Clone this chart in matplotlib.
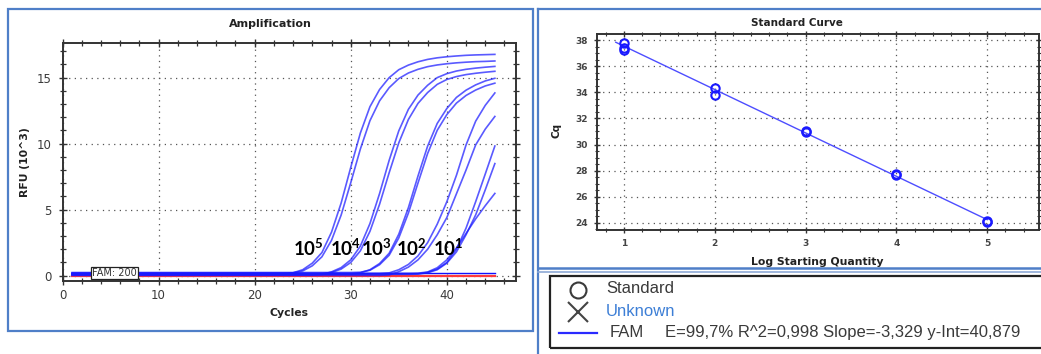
import matplotlib
matplotlib.use("Agg")
import matplotlib.pyplot as plt
from matplotlib.patches import Rectangle
from matplotlib.lines import Line2D
from matplotlib.ticker import MultipleLocator

plt.rcParams["font.family"] = ["DejaVu Sans"]
plt.rcParams["mathtext.fontset"] = "custom"
plt.rcParams["mathtext.bf"] = "Lato:bold"
plt.rcParams["mathtext.rm"] = "Lato"

# ---------------- data: amplification (RFU x 10^3 per cycle) ----------------
cycles = list(range(1, 46))

rfu_1e5_a = [0.10, 0.10, 0.10, 0.10, 0.10, 0.10, 0.10, 0.10, 0.10, 0.10, 0.10, 0.10,
             0.10, 0.10, 0.10, 0.10, 0.10, 0.10, 0.10, 0.10, 0.10, 0.10, 0.10,
             0.22, 0.45, 0.95, 1.75, 3.30, 5.50, 8.20, 10.80, 12.80, 14.10, 15.00, 15.60,
             15.95, 16.20, 16.38, 16.50, 16.58, 16.64, 16.69, 16.72, 16.74, 16.76]
rfu_1e5_b = [0.20, 0.20, 0.20, 0.20, 0.20, 0.20, 0.20, 0.20, 0.20, 0.20, 0.20, 0.20,
             0.20, 0.20, 0.20, 0.20, 0.20, 0.20, 0.20, 0.20, 0.20, 0.20, 0.20,
             0.21, 0.36, 0.75, 1.43, 2.68, 4.59, 7.04, 9.59, 11.74, 13.24, 14.24, 14.93,
             15.35, 15.63, 15.83, 15.96, 16.05, 16.12, 16.17, 16.21, 16.23, 16.26]
rfu_1e4_a = [0.04, 0.04, 0.04, 0.04, 0.04, 0.04, 0.04, 0.04, 0.04, 0.04, 0.04, 0.04,
             0.04, 0.04, 0.04, 0.04, 0.04, 0.04, 0.04, 0.04, 0.04, 0.04, 0.04, 0.04,
             0.04, 0.04, 0.09,
             0.29, 0.61, 1.20, 2.24, 3.95, 6.22, 8.74, 10.97, 12.60, 13.68, 14.42, 15.00,
             15.30, 15.50, 15.63, 15.72, 15.79, 15.85]
rfu_1e4_b = [0.16, 0.16, 0.16, 0.16, 0.16, 0.16, 0.16, 0.16, 0.16, 0.16, 0.16, 0.16,
             0.16, 0.16, 0.16, 0.16, 0.16, 0.16, 0.16, 0.16, 0.16, 0.16, 0.16, 0.16,
             0.16, 0.16, 0.16,
             0.24, 0.50, 1.00, 1.88, 3.36, 5.41, 7.80, 10.06, 11.83, 13.05, 13.87, 14.49,
             14.86, 15.08, 15.23, 15.33, 15.41, 15.48]
rfu_1e3_a = [0.12, 0.12, 0.12, 0.12, 0.12, 0.12, 0.12, 0.12, 0.12, 0.12, 0.12, 0.12,
             0.12, 0.12, 0.12, 0.12, 0.12, 0.12, 0.12, 0.12, 0.12, 0.12, 0.12, 0.12,
             0.12, 0.12, 0.12, 0.12, 0.12, 0.12,
             0.22, 0.45, 0.92, 1.70, 3.14, 5.15, 7.55, 9.81, 11.53, 12.66, 13.50, 14.05,
             14.45, 14.75, 14.95]
rfu_1e3_b = [0.24, 0.24, 0.24, 0.24, 0.24, 0.24, 0.24, 0.24, 0.24, 0.24, 0.24, 0.24,
             0.24, 0.24, 0.24, 0.24, 0.24, 0.24, 0.24, 0.24, 0.24, 0.24, 0.24, 0.24,
             0.24, 0.24, 0.24, 0.24, 0.24, 0.24,
             0.26, 0.41, 0.83, 1.55, 2.86, 4.74, 7.02, 9.25, 11.01, 12.20, 13.07, 13.65,
             14.06, 14.37, 14.58]
rfu_1e2_a = [0.15, 0.15, 0.15, 0.15, 0.15, 0.15, 0.15, 0.15, 0.15, 0.15, 0.15, 0.15,
             0.15, 0.15, 0.15, 0.15, 0.15, 0.15, 0.15, 0.15, 0.15, 0.15, 0.15, 0.15,
             0.15, 0.15, 0.15, 0.15, 0.15, 0.15, 0.15, 0.15, 0.15,
             0.21, 0.45, 0.85, 1.50, 2.50, 3.90, 5.60, 7.60, 9.90, 11.70, 12.90, 13.84]
rfu_1e2_b = [0.02, 0.02, 0.02, 0.02, 0.02, 0.02, 0.02, 0.02, 0.02, 0.02, 0.02, 0.02,
             0.02, 0.02, 0.02, 0.02, 0.02, 0.02, 0.02, 0.02, 0.02, 0.02, 0.02, 0.02,
             0.02, 0.02, 0.02, 0.02, 0.02, 0.02, 0.02, 0.02, 0.02, 0.06,
             0.30, 0.65, 1.20, 2.00, 3.10, 4.40, 6.20, 8.00, 9.90, 11.10, 12.06]
rfu_1e1_a = [0.13, 0.13, 0.13, 0.13, 0.13, 0.13, 0.13, 0.13, 0.13, 0.13, 0.13, 0.13,
             0.13, 0.13, 0.13, 0.13, 0.13, 0.13, 0.13, 0.13, 0.13, 0.13, 0.13, 0.13,
             0.13, 0.13, 0.13, 0.13, 0.13, 0.13, 0.13, 0.13, 0.13, 0.13, 0.13, 0.13, 0.15,
             0.25, 0.50, 1.00, 2.00, 3.60, 5.60, 7.70, 9.82]
rfu_1e1_b = [0.10, 0.10, 0.10, 0.10, 0.10, 0.10, 0.10, 0.10, 0.10, 0.10, 0.10, 0.10,
             0.10, 0.10, 0.10, 0.10, 0.10, 0.10, 0.10, 0.10, 0.10, 0.10, 0.10, 0.10,
             0.10, 0.10, 0.10, 0.10, 0.10, 0.10, 0.10, 0.10, 0.10, 0.10, 0.10, 0.10, 0.12,
             0.22, 0.45, 0.95, 1.80, 3.10, 4.60, 6.50, 8.49]
rfu_1e1_c = [0.18, 0.18, 0.18, 0.18, 0.18, 0.18, 0.18, 0.18, 0.18, 0.18, 0.18, 0.18,
             0.18, 0.18, 0.18, 0.18, 0.18, 0.18, 0.18, 0.18, 0.18, 0.18, 0.18, 0.18,
             0.18, 0.18, 0.18, 0.18, 0.18, 0.18, 0.18, 0.18, 0.18, 0.18, 0.18, 0.18, 0.19,
             0.28, 0.60, 1.20, 2.10, 3.20, 4.30, 5.30, 6.23]
rfu_ntc = [-0.02, -0.02, -0.02, -0.02, -0.02, -0.02, -0.02, -0.02, -0.02, -0.02, -0.02,
           -0.02, -0.02, -0.02, -0.02, -0.02, -0.02, -0.02, -0.02, -0.02, -0.02, -0.02,
           -0.02, -0.02, -0.02, -0.02, -0.02, -0.02, -0.02, -0.02, -0.02, -0.02, -0.02,
           -0.02, -0.02, -0.02, -0.02, -0.02, -0.02, -0.02, -0.02, -0.02, -0.02, -0.02,
           -0.02]

sample_curves = [rfu_1e5_a, rfu_1e5_b, rfu_1e4_a, rfu_1e4_b, rfu_1e3_a, rfu_1e3_b,
                 rfu_1e2_a, rfu_1e2_b, rfu_1e1_a, rfu_1e1_b, rfu_1e1_c]
threshold = 0.2
threshold_label = "FAM: 200"
dilution_labels = [r"$\mathbf{10^{5}}$", r"$\mathbf{10^{4}}$", r"$\mathbf{10^{3}}$",
                   r"$\mathbf{10^{2}}$", r"$\mathbf{10^{1}}$"]

# ---------------- data: standard curve ----------------
log_quantity = [1, 1, 1, 2, 2, 3, 3, 4, 4, 5, 5]
cq_values = [37.77, 37.40, 37.26, 34.31, 33.80, 30.94, 31.00, 27.66, 27.70, 24.05, 24.10]
fit_slope = -3.329
fit_intercept = 40.879
fit_x_range = [0.91, 5.0]
stats_text = "E=99,7% R^2=0,998 Slope=-3,329 y-Int=40,879"

# ---------------- figure ----------------
W, H = 1041, 354
fig = plt.figure(figsize=(W / 100, H / 100), dpi=100)


def fx(px):
    return px / W


def fy(py):
    return 1 - py / H


frame_blue = "#4f7fc8"
grid_kw = dict(color="#555555", linestyle=(0, (1, 3.5)), linewidth=0.9)

# panel frames
fig.add_artist(Rectangle((fx(8.3), fy(330.5)), fx(532.8) - fx(8.3), fy(8.5) - fy(330.5),
                         transform=fig.transFigure, fill=False, ec=frame_blue, lw=1.6))
fig.add_artist(Line2D([fx(538.3), fx(538.3)], [fy(8.5), fy(354)], transform=fig.transFigure,
                      color=frame_blue, lw=1.6))
fig.add_artist(Line2D([fx(538.3), fx(1041)], [fy(8.5), fy(8.5)], transform=fig.transFigure,
                      color=frame_blue, lw=1.6))
fig.add_artist(Line2D([fx(538.3), fx(1041)], [fy(268), fy(268)], transform=fig.transFigure,
                      color=frame_blue, lw=1.8))
fig.add_artist(Line2D([fx(538.3), fx(1041)], [fy(272), fy(272)], transform=fig.transFigure,
                      color="#8ea9d6", lw=1.2))

# ---------------- amplification plot ----------------
ax = fig.add_axes([fx(62.5), fy(280.7), fx(516) - fx(62.5), fy(43.3) - fy(280.7)])
ax.set_xlim(0, 47.2)
ax.set_ylim(-0.38, 17.6)
ax.xaxis.set_major_locator(MultipleLocator(10))
ax.xaxis.set_minor_locator(MultipleLocator(2))
ax.yaxis.set_major_locator(MultipleLocator(5))
ax.yaxis.set_minor_locator(MultipleLocator(1))
ax.grid(True, which="major", **grid_kw)
ax.set_axisbelow(True)

ax.plot(cycles, rfu_ntc, color="#ff3b3b", lw=1.6, zorder=2)
ax.plot([cycles[0], cycles[-1]], [threshold, threshold], color="#1010ff", lw=1.0, zorder=2)
for curve in sample_curves:
    ax.plot(cycles, curve, color="#1a1aff", lw=1.2, alpha=0.72, zorder=3)

ax.text(5.4, 0.2, threshold_label, fontsize=7, color="#333333", ha="center", va="center",
        zorder=5, bbox=dict(boxstyle="square,pad=0.14", fc="white", ec="#222222", lw=0.9))

label_x = [24.0, 27.8, 31.1, 34.7, 38.6]
for lx, lab in zip(label_x, dilution_labels):
    ax.text(lx, 1.5, lab, fontsize=13.5, color="black", ha="left", va="baseline", zorder=6)

for s in ax.spines.values():
    s.set_color("#333333")
    s.set_linewidth(1.4)
ax.tick_params(which="both", direction="inout", top=True, right=True, colors="#333333",
               labelcolor="#3a3a3a", labelsize=8.5)
ax.tick_params(which="major", length=6, width=1.0)
ax.tick_params(which="minor", length=4, width=0.9)
ax.tick_params(axis="y", pad=5)
ax.tick_params(axis="x", pad=3)

fig.text(fx(270.3), fy(24.3), "Amplification", fontsize=8, fontweight="bold", color="#222222",
         ha="center", va="center")
fig.text(fx(289), fy(313.3), "Cycles", fontsize=7.8, fontweight="bold", color="#222222",
         ha="center", va="center")
fig.text(fx(25.3), fy(162), "RFU (10^3)", fontsize=7.8, fontweight="bold", color="#222222",
         ha="center", va="center", rotation=90)

# ---------------- standard curve plot ----------------
ax2 = fig.add_axes([fx(596.7), fy(230), fx(1039) - fx(596.7), fy(34.3) - fy(230)])
ax2.set_xlim(0.70, 5.57)
ax2.set_ylim(23.44, 38.46)
ax2.xaxis.set_major_locator(MultipleLocator(1))
ax2.xaxis.set_minor_locator(MultipleLocator(0.2))
ax2.yaxis.set_major_locator(MultipleLocator(2))
ax2.yaxis.set_minor_locator(MultipleLocator(0.5))
ax2.grid(True, which="major", **grid_kw)
ax2.set_axisbelow(True)

fit_y = [fit_intercept + fit_slope * xv for xv in fit_x_range]
ax2.plot(fit_x_range, fit_y, color="#4d4dff", lw=1.0, zorder=3)
ax2.plot(log_quantity, cq_values, linestyle="none", marker="o", ms=6, mfc="none",
         mec="#1a1aff", mew=1.5, zorder=4)

for s in ax2.spines.values():
    s.set_color("#333333")
    s.set_linewidth(1.4)
ax2.tick_params(which="both", direction="inout", top=True, right=True, colors="#333333",
                labelcolor="#444444", labelsize=6.5)
ax2.tick_params(which="major", length=5, width=1.0)
ax2.tick_params(which="minor", length=3, width=0.8)
ax2.tick_params(axis="y", pad=4)
ax2.tick_params(axis="x", pad=4)
for t in ax2.get_xticklabels() + ax2.get_yticklabels():
    t.set_fontweight("bold")

fig.text(fx(796.7), fy(22.7), "Standard Curve", fontsize=7.5, fontweight="bold",
         color="#222222", ha="center", va="center")
fig.text(fx(817.7), fy(261.7), "Log Starting Quantity", fontsize=7.8, fontweight="bold",
         color="#222222", ha="center", va="center")
fig.text(fx(556.7), fy(130), "Cq", fontsize=7.5, fontweight="bold", color="#222222",
         ha="center", va="center", rotation=90)

# ---------------- legend panel ----------------
fig.add_artist(Rectangle((fx(550), fy(348)), fx(1045) - fx(550), fy(275.7) - fy(348),
                         transform=fig.transFigure, fill=False, ec="#222222", lw=1.6))
fig.add_artist(Line2D([fx(577.7)], [fy(289.5)], transform=fig.transFigure, marker="o",
                      ms=11.5, mfc="none", mec="#3a3a3a", mew=1.5, linestyle="none"))
fig.add_artist(Line2D([fx(577.7)], [fy(312)], transform=fig.transFigure, marker="x",
                      ms=14, mec="#444444", mew=1.5, linestyle="none"))
fig.add_artist(Line2D([fx(559), fx(596.7)], [fy(332.7), fy(332.7)], transform=fig.transFigure,
                      color="#2a2aff", lw=1.6))
fig.text(fx(606), fy(288.5), "Standard", fontsize=12, color="#3a3a3a", ha="left",
         va="center", family="Liberation Sans")
fig.text(fx(606), fy(311.5), "Unknown", fontsize=12, color="#3d7fd6", ha="left",
         va="center", family="Liberation Sans")
fig.text(fx(610), fy(332.5), "FAM", fontsize=12, color="#3a3a3a", ha="left",
         va="center", family="Liberation Sans")
fig.text(fx(665), fy(332.5), stats_text, fontsize=12, color="#3a3a3a", ha="left",
         va="center", family="Liberation Sans")

fig.savefig("out.png", dpi=100)
